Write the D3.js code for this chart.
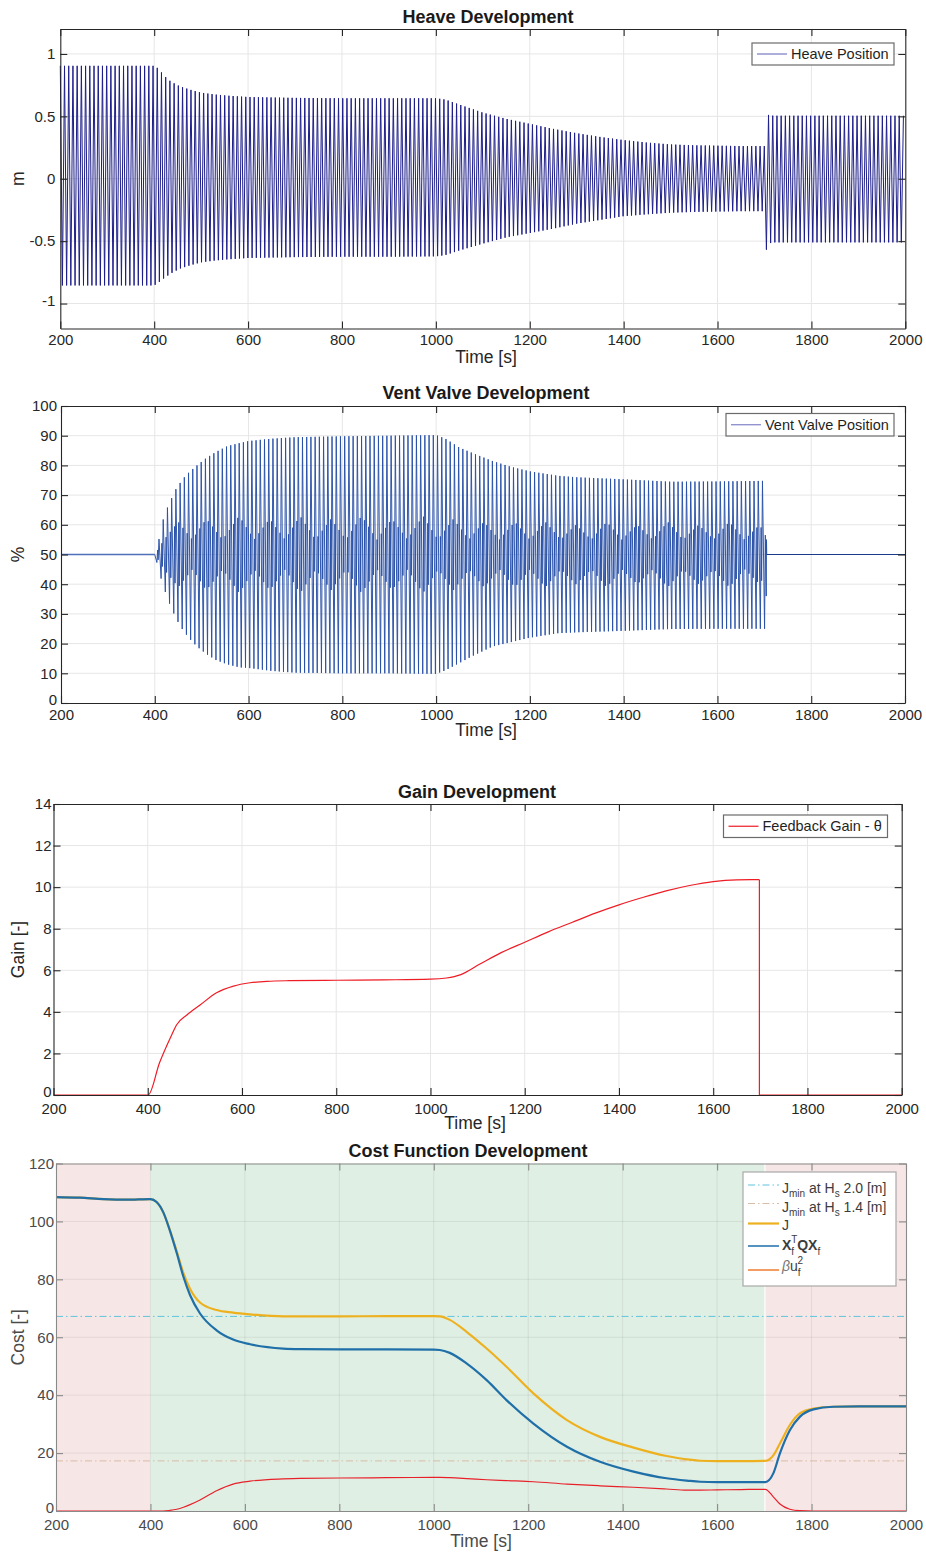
<!DOCTYPE html>
<html>
<head>
<meta charset="utf-8">
<script src="https://cdn.jsdelivr.net/npm/d3@7"></script>
<style>
  body { margin: 0; background: #fff; }
  svg { display: block; }
</style>
</head>
<body>
<svg id="fig" width="926" height="1554"></svg>
<script>
// ---------- shared axis values ----------
const timeTicks = [200, 400, 600, 800, 1000, 1200, 1400, 1600, 1800, 2000];
const heaveTicks = [-1, -0.5, 0, 0.5, 1];
const ventTicks = [0, 10, 20, 30, 40, 50, 60, 70, 80, 90, 100];
const gainTicks = [0, 2, 4, 6, 8, 10, 12, 14];
const costTicks = [0, 20, 40, 60, 80, 100, 120];

// ---------- heave: oscillation envelope (m) ----------
const heavePeriod = 8.98; // s, wave period
const heaveEnvT = [200, 400, 410, 420, 435, 455, 480, 500, 530, 560, 600, 700, 800, 900, 1000, 1020, 1050, 1100, 1150, 1200, 1250, 1300, 1350, 1400, 1450, 1500, 1550, 1600, 1650, 1700, 1704, 1709, 1718, 2000];
const heaveUpper = [0.905, 0.905, 0.88, 0.83, 0.78, 0.74, 0.71, 0.69, 0.675, 0.665, 0.655, 0.648, 0.645, 0.645, 0.645, 0.635, 0.595, 0.53, 0.48, 0.44, 0.40, 0.365, 0.335, 0.31, 0.29, 0.275, 0.268, 0.265, 0.262, 0.262, 0.40, 0.52, 0.505, 0.505];
const heaveLower = [-0.855, -0.855, -0.83, -0.80, -0.76, -0.72, -0.69, -0.67, -0.655, -0.645, -0.635, -0.628, -0.625, -0.625, -0.622, -0.612, -0.575, -0.52, -0.47, -0.435, -0.40, -0.36, -0.33, -0.30, -0.285, -0.272, -0.266, -0.263, -0.26, -0.26, -0.57, -0.52, -0.51, -0.51];

// ---------- vent valve: position envelope (%) ----------
const ventRest = 50;
const ventStart = 400, ventStop = 1700, ventPeriod = 9.0;
const ventEnvT = [400, 405, 410, 415, 420, 430, 445, 460, 475, 490, 510, 530, 555, 580, 600, 650, 700, 800, 900, 1000, 1020, 1050, 1080, 1120, 1160, 1200, 1260, 1300, 1400, 1500, 1600, 1704];
const ventUpper = [50, 52, 56, 60, 63, 67, 72, 75.5, 78, 80, 82.5, 84.5, 86.5, 87.5, 88.2, 89, 89.5, 89.8, 90, 90.2, 89, 86, 84, 81.5, 79.5, 78, 76.5, 76, 75.3, 74.5, 74.6, 74.8];
const ventLower = [50, 47, 44, 41, 38.5, 34, 28.5, 24.5, 21.5, 19, 16.5, 14.5, 13, 12, 11.8, 10.8, 10.2, 10, 10, 9.8, 11, 13.5, 16, 19, 20.5, 22, 23.5, 23.8, 24.3, 24.9, 25, 25];
// swing of the secondary (inner) oscillation about the rest position
const ventInnerT = [400, 420, 450, 480, 510, 545, 580, 612, 645, 678, 710, 743, 776, 808, 841, 874, 906, 939, 972, 1004, 1037, 1070, 1102, 1135, 1168, 1200, 1233, 1266, 1298, 1331, 1364, 1396, 1429, 1462, 1494, 1527, 1560, 1592, 1625, 1658, 1690, 1704];
const ventInnerAmp = [0, 5, 11, 5, 12, 5, 13, 5, 12, 5, 13, 5, 12, 5, 13, 5, 12, 5, 13, 5, 12, 5, 11, 5, 11, 5, 11, 5, 10, 5, 11, 5, 10, 5, 11, 5, 10, 5, 11, 5, 10, 6];
// valve closing transient (time, %)
const ventTail = [[1704.1, 36], [1704.6, 55], [1705.1, 50]];

// ---------- feedback gain ----------
const gainT = [200, 401, 425, 451, 461, 483, 511, 546, 582, 617, 653, 700, 800, 900, 1000, 1034, 1063, 1105, 1150, 1200, 1250, 1300, 1350, 1400, 1450, 1500, 1550, 1600, 1650, 1698, 1698, 2000];
const gainV = [0, 0, 1.55, 2.9, 3.37, 3.85, 4.33, 4.92, 5.24, 5.40, 5.47, 5.5, 5.52, 5.54, 5.57, 5.63, 5.78, 6.3, 6.85, 7.35, 7.85, 8.3, 8.75, 9.15, 9.5, 9.82, 10.08, 10.27, 10.35, 10.36, 0, 0];

// ---------- cost function ----------
const costT = [200, 250, 300, 350, 400, 413, 427, 441, 456, 470, 484, 505, 540, 575, 611, 681, 717, 800, 900, 1000, 1013, 1034, 1070, 1112, 1154, 1211, 1282, 1352, 1423, 1493, 1536, 1564, 1600, 1650, 1702, 1719, 1733, 1754, 1775, 1804, 1846, 1900, 2000];
const costXQX = [108.4, 108.2, 107.7, 107.5, 107.7, 106.7, 103.2, 96.9, 88.9, 80.8, 74.5, 68.2, 62.4, 59.2, 57.6, 56.1, 55.9, 55.8, 55.8, 55.7, 55.6, 54.6, 50.9, 45.2, 38.3, 30.2, 22.2, 17.0, 13.6, 11.3, 10.5, 10.1, 10.0, 10.0, 10.0, 13.0, 19.9, 27.9, 32.5, 35.1, 36.0, 36.1, 36.1];
const costJ = [108.4, 108.2, 107.7, 107.5, 107.7, 106.7, 103.2, 97.1, 89.5, 82.1, 76.7, 72.0, 69.4, 68.5, 67.9, 67.2, 67.2, 67.2, 67.3, 67.3, 67.2, 66.0, 61.8, 56.1, 49.8, 40.6, 31.4, 25.6, 21.9, 19.0, 17.8, 17.35, 17.2, 17.2, 17.3, 19.2, 23.3, 29.7, 33.7, 35.4, 36.0, 36.1, 36.1];
const costBeta = [0, 0, 0, 0, 0, 0, 0, 0.2, 0.6, 1.3, 2.2, 3.8, 7.0, 9.3, 10.3, 11.1, 11.3, 11.4, 11.5, 11.6, 11.6, 11.5, 11.2, 10.8, 10.5, 10.1, 9.3, 8.7, 8.2, 7.6, 7.2, 7.2, 7.3, 7.4, 7.5, 4.9, 2.4, 0.6, 0.1, 0, 0, 0, 0];
const jminHs20 = 67.2;
const jminHs14 = 17.3;
const controlOff1 = [200, 400], controlOn = [400, 1700], controlOff2 = [1700, 2000];

// ---------- drawing helpers ----------
const FONT = '"Liberation Sans", Arial, Helvetica, sans-serif';
const svg = d3.select("#fig");

function makePanel(cfg) {
  const root = svg.append("g");
  const L = {};
  ["bg", "grid", "data", "frame", "legend"].forEach(k => L[k] = root.append("g"));
  const x = d3.scaleLinear().domain([timeTicks[0], timeTicks[timeTicks.length - 1]]).range([cfg.left, cfg.right]);
  const y = d3.scaleLinear().domain([cfg.yTicksDomain[0], cfg.yTicksDomain[1]]).range([cfg.bottom, cfg.top]);

  // grid
  L.grid.selectAll("line.gx").data(timeTicks.slice(1, -1)).join("line")
    .attr("x1", d => x(d)).attr("x2", d => x(d)).attr("y1", cfg.top).attr("y2", cfg.bottom)
    .attr("stroke", cfg.gridColor).attr("stroke-width", 1);
  L.grid.selectAll("line.gy").data(cfg.yTicks.filter(v => y(v) > cfg.top + 1 && y(v) < cfg.bottom - 1)).join("line")
    .attr("x1", cfg.left).attr("x2", cfg.right).attr("y1", d => y(d)).attr("y2", d => y(d))
    .attr("stroke", cfg.gridColor).attr("stroke-width", 1);

  // axes frame with inward ticks
  const fmt = d => String(d);
  const tk = cfg.tick;
  const gB = L.frame.append("g").attr("transform", `translate(0,${cfg.bottom})`)
    .call(d3.axisBottom(x).tickValues(timeTicks).tickSizeInner(-tk).tickSizeOuter(0).tickPadding(cfg.padX).tickFormat(fmt));
  const gT = L.frame.append("g").attr("transform", `translate(0,${cfg.top})`)
    .call(d3.axisTop(x).tickValues(timeTicks).tickSizeInner(-tk).tickSizeOuter(0).tickFormat(""));
  const gL = L.frame.append("g").attr("transform", `translate(${cfg.left},0)`)
    .call(d3.axisLeft(y).tickValues(cfg.yTicks).tickSizeInner(-tk).tickSizeOuter(0).tickPadding(cfg.padY).tickFormat(fmt));
  const gR = L.frame.append("g").attr("transform", `translate(${cfg.right},0)`)
    .call(d3.axisRight(y).tickValues(cfg.yTicks).tickSizeInner(-tk).tickSizeOuter(0).tickFormat(""));
  [gB, gT, gL, gR].forEach(g => {
    g.attr("font-family", FONT).attr("font-size", 15);
    g.select("path.domain").attr("stroke", cfg.axisColor).attr("stroke-width", 1.1);
    g.selectAll(".tick line").attr("stroke", cfg.axisColor).attr("stroke-width", 1.1);
    g.selectAll(".tick text").attr("fill", cfg.textColor);
  });
  // the lowest y label sits just above the first time label
  gL.selectAll(".tick text").filter(d => d === cfg.yTicks[0]).attr("dy", "0.1em");

  // title and axis labels
  root.append("text").attr("x", cfg.titleX).attr("y", cfg.titleY)
    .attr("text-anchor", "middle").attr("font-family", FONT).attr("font-size", 18)
    .attr("font-weight", "bold").attr("fill", "#1a1a1a").text(cfg.title);
  root.append("text").attr("x", cfg.xLabelX).attr("y", cfg.xLabelY)
    .attr("text-anchor", "middle").attr("font-family", FONT).attr("font-size", 17.5)
    .attr("fill", cfg.textColor).text("Time [s]");
  root.append("text").attr("transform", `translate(24,${(cfg.top + cfg.bottom) / 2}) rotate(-90)`)
    .attr("text-anchor", "middle").attr("font-family", FONT).attr("font-size", 17.5)
    .attr("fill", cfg.textColor).text(cfg.yLabel);
  return { L, x, y };
}

function simpleLegend(layer, box, color, label) {
  layer.append("rect").attr("x", box[0]).attr("y", box[1]).attr("width", box[2]).attr("height", box[3])
    .attr("fill", "#fff").attr("stroke", "#6b6b6b").attr("stroke-width", 1.2);
  const cy = box[1] + box[3] / 2;
  layer.append("line").attr("x1", box[0] + 5).attr("x2", box[0] + 35).attr("y1", cy).attr("y2", cy)
    .attr("stroke", color).attr("stroke-width", 1.2);
  layer.append("text").attr("x", box[0] + 39).attr("y", cy + 5.2)
    .attr("font-family", FONT).attr("font-size", 14.5).attr("fill", "#1f1f1f").text(label);
}

// ================= Heave =================
{
  const P = makePanel({
    left: 60.3, right: 905.3, top: 29, bottom: 328.5, yTicksDomain: [-1.2, 1.2], yTicks: heaveTicks,
    tick: 7, padX: 6, padY: 5, gridColor: "#e6e6e6", axisColor: "#262626", textColor: "#262626",
    title: "Heave Development", titleX: 488, titleY: 23, xLabelX: 486, xLabelY: 363, yLabel: "m"
  });
  const up = d3.scaleLinear().domain(heaveEnvT).range(heaveUpper).clamp(true);
  const lo = d3.scaleLinear().domain(heaveEnvT).range(heaveLower).clamp(true);
  const pts = [];
  for (let k = 0; ; k++) {
    const t = timeTicks[0] + k * heavePeriod / 2;
    if (t > 2000) break;
    pts.push([t, k % 2 === 0 ? up(t) : lo(t)]);
  }
  const line = d3.line().x(d => P.x(d[0])).y(d => P.y(d[1]));
  P.L.data.append("path").attr("d", line(pts)).attr("fill", "none")
    .attr("stroke", "#1e1e8a").attr("stroke-width", 1).attr("stroke-linejoin", "round");
  simpleLegend(P.L.legend, [752, 43, 142, 22], "#7878c4", "Heave Position");
}

// ================= Vent valve =================
{
  const P = makePanel({
    left: 61, right: 905, top: 406, bottom: 703, yTicksDomain: [0, 100], yTicks: ventTicks,
    tick: 7, padX: 6, padY: 4, gridColor: "#e6e6e6", axisColor: "#262626", textColor: "#262626",
    title: "Vent Valve Development", titleX: 486, titleY: 399, xLabelX: 486, xLabelY: 736, yLabel: "%"
  });
  const up = d3.scaleLinear().domain(ventEnvT).range(ventUpper).clamp(true);
  const lo = d3.scaleLinear().domain(ventEnvT).range(ventLower).clamp(true);
  const inner = d3.scaleLinear().domain(ventInnerT).range(ventInnerAmp).clamp(true);
  const pts = [];
  for (let t = ventStart; t < ventStop; t += ventPeriod) {
    const tA = t, tB = t + 0.5 * ventPeriod, tC = t + 0.68 * ventPeriod, tD = t + 0.8 * ventPeriod;
    pts.push([tA, up(tA)], [tB, lo(tB)], [tC, ventRest + inner(tC)], [tD, ventRest - inner(tD)]);
  }
  ventTail.forEach(p => pts.push(p));
  const line = d3.line().x(d => P.x(d[0])).y(d => P.y(d[1]));
  // resting valve before the controller starts
  P.L.data.append("path").attr("d", line([[200, ventRest], [ventStart, ventRest]]))
    .attr("fill", "none").attr("stroke", "#4d70b8").attr("stroke-width", 1.3);
  P.L.data.append("path").attr("d", line(pts)).attr("fill", "none")
    .attr("stroke", "#2850a8").attr("stroke-width", 0.95)
    .attr("stroke-linejoin", "round");
  // resting valve after the controller stops
  P.L.data.append("path").attr("d", line([ventTail[ventTail.length - 1], [2000, ventRest]]))
    .attr("fill", "none").attr("stroke", "#1c3a8c").attr("stroke-width", 1);
  simpleLegend(P.L.legend, [726, 413.5, 168, 22.5], "#8080c8", "Vent Valve Position");
}

// ================= Gain =================
{
  const P = makePanel({
    left: 53.5, right: 901.7, top: 804, bottom: 1095, yTicksDomain: [0, 14], yTicks: gainTicks,
    tick: 7, padX: 8, padY: 2, gridColor: "#e6e6e6", axisColor: "#262626", textColor: "#262626",
    title: "Gain Development", titleX: 477, titleY: 798, xLabelX: 475, xLabelY: 1129, yLabel: "Gain [-]"
  });
  const pts = gainT.map((t, i) => [t, gainV[i]]);
  const drop = pts.findIndex((p, i) => i > 0 && p[0] === pts[i - 1][0]);
  const smooth = d3.line().x(d => P.x(d[0])).y(d => P.y(d[1])).curve(d3.curveMonotoneX);
  const straight = d3.line().x(d => P.x(d[0])).y(d => P.y(d[1]));
  P.L.data.append("path").attr("d", smooth(pts.slice(0, drop))).attr("fill", "none")
    .attr("stroke", "#ee1c25").attr("stroke-width", 1.2);
  P.L.data.append("path").attr("d", straight(pts.slice(drop - 1))).attr("fill", "none")
    .attr("stroke", "#ee1c25").attr("stroke-width", 1.2);
  simpleLegend(P.L.legend, [723.5, 815, 164, 22.5], "#ee1c25", "Feedback Gain - \u03b8");
}

// ================= Cost function =================
{
  const P = makePanel({
    left: 56, right: 906, top: 1163.5, bottom: 1511, yTicksDomain: [0, 120], yTicks: costTicks,
    tick: 7, padX: 8, padY: 2, gridColor: "rgba(0,0,0,0.07)", axisColor: "#8a8a8a", textColor: "#4a4a4a",
    title: "Cost Function Development", titleX: 468, titleY: 1157, xLabelX: 481, xLabelY: 1547, yLabel: "Cost [-]"
  });
  const x = P.x, y = P.y;
  const band = (r, color, inset) => P.L.bg.append("rect")
    .attr("x", x(r[0]) + inset).attr("y", y(120)).attr("width", x(r[1]) - x(r[0]) - inset).attr("height", y(0) - y(120))
    .attr("fill", color);
  band(controlOff1, "#f7e6e6", 0);
  band(controlOn, "#e0efe3", 0);
  band(controlOff2, "#f7e6e6", 1.2);

  const hline = (v, color) => P.L.data.append("line")
    .attr("x1", x(200)).attr("x2", x(2000)).attr("y1", y(v)).attr("y2", y(v))
    .attr("stroke", color).attr("stroke-width", 1).attr("stroke-dasharray", "7,3,1.5,3");
  hline(jminHs20, "#5fc3dc");
  hline(jminHs14, "#d8bca6");

  const line = d3.line().x(d => x(d[0])).y(d => y(d[1])).curve(d3.curveMonotoneX);
  const series = arr => costT.map((t, i) => [t, arr[i]]);
  P.L.data.append("path").attr("d", line(series(costBeta))).attr("fill", "none")
    .attr("stroke", "#e8202a").attr("stroke-width", 1.2);
  P.L.data.append("path").attr("d", line(series(costJ))).attr("fill", "none")
    .attr("stroke", "#edb120").attr("stroke-width", 2.2);
  P.L.data.append("path").attr("d", line(series(costXQX))).attr("fill", "none")
    .attr("stroke", "#1f6fa8").attr("stroke-width", 2.2);

  // legend
  const lg = P.L.legend;
  const bx = 743, by = 1172, bw = 153, bh = 114;
  lg.append("rect").attr("x", bx).attr("y", by).attr("width", bw).attr("height", bh)
    .attr("fill", "#fff").attr("stroke", "#a8a8a8").attr("stroke-width", 1.2);
  const rows = [
    { y: 1185, color: "#5fc3dc", w: 1, dash: "7,3,1.5,3", base: 1193,
      parts: [{ t: "J" }, { t: "min", s: 4 }, { t: " at H" }, { t: "s", s: 4 }, { t: " 2.0 [m]" }] },
    { y: 1203.5, color: "#d8bca6", w: 1, dash: "7,3,1.5,3", base: 1212,
      parts: [{ t: "J" }, { t: "min", s: 4 }, { t: " at H" }, { t: "s", s: 4 }, { t: " 1.4 [m]" }] },
    { y: 1223.5, color: "#edb120", w: 2.2, dash: null, base: 1230, parts: [{ t: "J" }] },
    { y: 1246, color: "#1f6fa8", w: 1.5, dash: null, base: 1250,
      parts: [{ t: "X", b: true }, { t: "f", s: 5 }, { t: "T", s: -7, dx: -3 }, { t: "QX", b: true }, { t: "f", s: 5 }] },
    { y: 1270, color: "#ee7d31", w: 1.5, dash: null, base: 1271,
      parts: [{ t: "\u03b2", i: true }, { t: "u" }, { t: "f", s: 5 }, { t: "2", s: -7, dx: -3 }] }
  ];
  rows.forEach(r => {
    lg.append("line").attr("x1", 748).attr("x2", 779).attr("y1", r.y).attr("y2", r.y)
      .attr("stroke", r.color).attr("stroke-width", r.w).attr("stroke-dasharray", r.dash);
    const tx = lg.append("text").attr("x", 782).attr("y", r.base)
      .attr("font-family", FONT).attr("font-size", 14).attr("fill", "#3c3c3c");
    let cur = 0;
    r.parts.forEach(p => {
      const target = p.s || 0;
      const sp = tx.append("tspan").attr("dy", target - cur).text(p.t);
      if (p.s) sp.attr("font-size", 10);
      if (p.dx) sp.attr("dx", p.dx);
      if (p.b) sp.attr("font-weight", "bold");
      if (p.i) sp.attr("font-style", "italic").attr("fill", "#777");
      cur = target;
    });
  });
}
</script>
</body>
</html>
